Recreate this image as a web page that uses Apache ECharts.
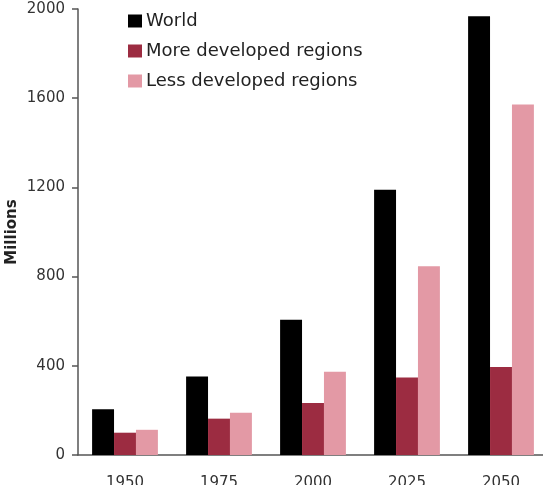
<!DOCTYPE html>
<html>
<head>
<meta charset="utf-8">
<script src="https://cdn.jsdelivr.net/npm/echarts@6/dist/echarts.min.js"></script>
<style>
  html, body { margin: 0; padding: 0; background: #fff; }
  #chart { width: 543px; height: 485px; }
</style>
</head>
<body>
<div id="chart"></div>
<script>
const years = ["1950", "1975", "2000", "2025", "2050"];
const world = [205, 352, 606, 1190, 1968];
const moreDeveloped = [100, 163, 233, 347, 395];
const lessDeveloped = [113, 190, 373, 846, 1572];
const yTicks = [0, 400, 800, 1200, 1600, 2000];

const chart = echarts.init(document.getElementById("chart"));

const font = "DejaVu Sans, sans-serif";

chart.setOption({
  animation: false,
  textStyle: { fontFamily: font },
  grid: {
    left: 78,
    width: 470,
    top: 9,
    bottom: 30,
    containLabel: false,
    outerBoundsMode: "none"
  },
  legend: {
    orient: "vertical",
    left: 128,
    top: 12,
    padding: 0,
    itemWidth: 14,
    itemHeight: 13,
    itemGap: 12,
    icon: "rect",
    textStyle: { fontSize: 18, color: "#222", fontFamily: font, padding: [0, 0, 0, -1] },
    data: ["World", "More developed regions", "Less developed regions"]
  },
  xAxis: {
    type: "category",
    data: years,
    axisLine: { lineStyle: { color: "#555", width: 1.5 } },
    axisTick: { show: false },
    axisLabel: { color: "#333", fontSize: 15, margin: 21 }
  },
  yAxis: {
    type: "value",
    min: yTicks[0],
    max: yTicks[yTicks.length - 1],
    interval: 400,
    name: "Millions",
    nameLocation: "middle",
    nameGap: 58,
    nameMoveOverlap: false,
    nameTextStyle: { color: "#222", fontSize: 15, fontWeight: "bold" },
    axisLine: { show: true, lineStyle: { color: "#555", width: 1.5 } },
    axisTick: { show: true, length: 6, lineStyle: { color: "#555", width: 1.5 } },
    axisLabel: { color: "#333", fontSize: 15, margin: 13, formatter: (v) => String(v) },
    splitLine: { show: false }
  },
  series: [
    {
      name: "World",
      type: "bar",
      data: world,
      barGap: "0%",
      barCategoryGap: "30%",
      itemStyle: { color: "#000000" }
    },
    {
      name: "More developed regions",
      type: "bar",
      data: moreDeveloped,
      itemStyle: { color: "#9c2c41" }
    },
    {
      name: "Less developed regions",
      type: "bar",
      data: lessDeveloped,
      itemStyle: { color: "#e399a5" }
    }
  ]
});
</script>
</body>
</html>
